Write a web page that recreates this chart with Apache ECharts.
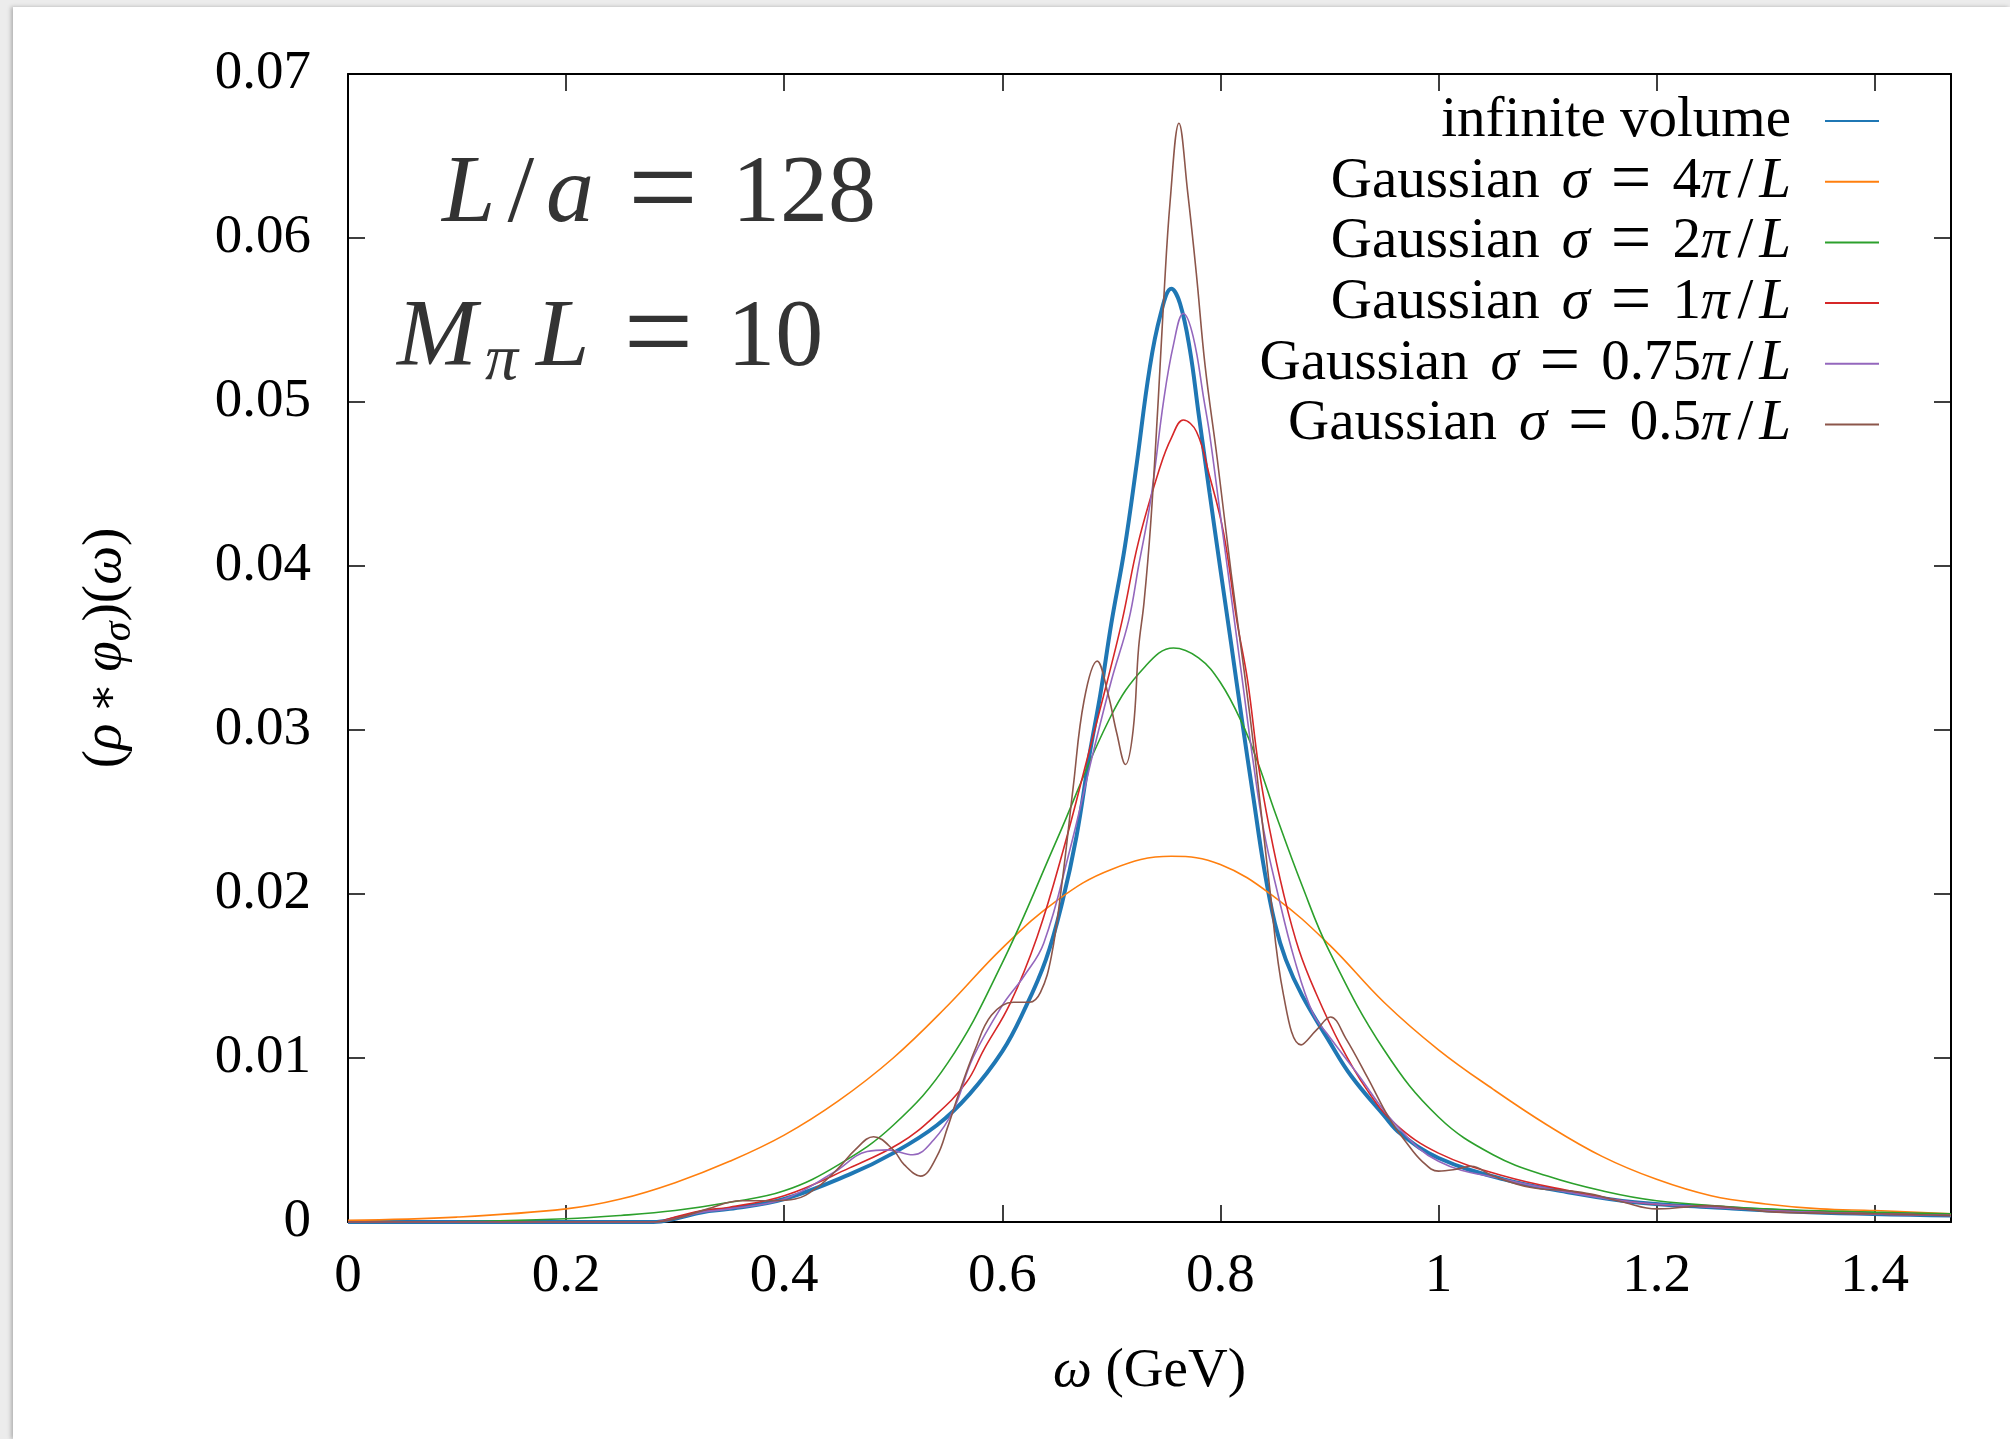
<!DOCTYPE html>
<html>
<head>
<meta charset="utf-8">
<script src="https://cdn.jsdelivr.net/npm/echarts/dist/echarts.min.js"></script>
<style>
  html, body { margin: 0; padding: 0; background: #ececec; }
  #main {
    position: absolute; left: 13px; top: 7px; width: 1997px; height: 1432px;
    background: #fff; box-shadow: -2px 0 4px rgba(0,0,0,0.25);
  }
</style>
</head>
<body>
<div id="main"></div>
<script>
// omega (GeV) and smeared spectral density
var infW = [0, 0.28, 0.3, 0.325, 0.35, 0.4, 0.46, 0.5, 0.54, 0.57, 0.6, 0.62, 0.64, 0.655, 0.668, 0.68, 0.69, 0.7, 0.712, 0.723, 0.735, 0.745, 0.755, 0.763, 0.772, 0.78, 0.79, 0.8, 0.81, 0.82, 0.83, 0.84, 0.85, 0.86, 0.875, 0.9, 0.92, 0.95, 0.965, 1.0, 1.06, 1.12, 1.18, 1.25, 1.34, 1.47];
var infRho = [0, 0, 0.0002, 0.0006, 0.0008, 0.0014, 0.0029, 0.0042, 0.0059, 0.0078, 0.0104, 0.0129, 0.0160, 0.0195, 0.0235, 0.0285, 0.0322, 0.0365, 0.0410, 0.0461, 0.0520, 0.0553, 0.0569, 0.0560, 0.0532, 0.0493, 0.0445, 0.0398, 0.0352, 0.0305, 0.0260, 0.0216, 0.0182, 0.0160, 0.0138, 0.0110, 0.0089, 0.0065, 0.0054, 0.0039, 0.0026, 0.0018, 0.0012, 0.0009, 0.0006, 0.0004];

var g4W = [0, 0.1, 0.2, 0.25, 0.3, 0.35, 0.4, 0.45, 0.5, 0.55, 0.6, 0.65, 0.7, 0.755, 0.8, 0.85, 0.9, 0.95, 1.0, 1.05, 1.1, 1.15, 1.2, 1.25, 1.3, 1.35, 1.4, 1.47];
var g4Rho = [0.0001, 0.0003, 0.0008, 0.0014, 0.0024, 0.0037, 0.0053, 0.0074, 0.0100, 0.0132, 0.0167, 0.0196, 0.0215, 0.0223, 0.0218, 0.0198, 0.0169, 0.0134, 0.0105, 0.0081, 0.0059, 0.0040, 0.0026, 0.0016, 0.0011, 0.0008, 0.0007, 0.0005];

var g2W = [0, 0.1, 0.2, 0.25, 0.3, 0.35, 0.4, 0.45, 0.5, 0.55, 0.6, 0.65, 0.7, 0.73, 0.757, 0.78, 0.8, 0.82, 0.835, 0.85, 0.875, 0.9, 0.95, 1.0, 1.05, 1.1, 1.15, 1.2, 1.3, 1.4, 1.47];
var g2Rho = [0, 0.00003, 0.0002, 0.0004, 0.0007, 0.0012, 0.0019, 0.0035, 0.0059, 0.0097, 0.0158, 0.0233, 0.0309, 0.0338, 0.0350, 0.0344, 0.0329, 0.0304, 0.0279, 0.0250, 0.0205, 0.0165, 0.0105, 0.0064, 0.0041, 0.0028, 0.0019, 0.0013, 0.0008, 0.0006, 0.0005];

var g1W = [0, 0.28, 0.3, 0.325, 0.35, 0.4, 0.46, 0.506, 0.537, 0.567, 0.583, 0.607, 0.632, 0.656, 0.68, 0.696, 0.71, 0.725, 0.745, 0.755, 0.766, 0.778, 0.79, 0.803, 0.815, 0.825, 0.835, 0.845, 0.858, 0.872, 0.888, 0.91, 0.934, 0.96, 1.0, 1.06, 1.12, 1.18, 1.25, 1.34, 1.47];
var g1Rho = [0, 0, 0.0003, 0.0007, 0.0009, 0.0016, 0.0033, 0.0048, 0.0064, 0.0085, 0.0105, 0.0133, 0.0174, 0.0227, 0.0288, 0.0329, 0.0367, 0.0415, 0.0461, 0.0478, 0.0489, 0.0482, 0.0455, 0.0420, 0.0367, 0.0330, 0.0278, 0.0240, 0.0200, 0.0166, 0.0139, 0.0108, 0.0081, 0.0060, 0.0042, 0.0028, 0.0019, 0.0012, 0.0009, 0.0006, 0.0004];

var g075W = [0, 0.28, 0.3, 0.325, 0.35, 0.4, 0.445, 0.476, 0.495, 0.518, 0.537, 0.555, 0.573, 0.6, 0.62, 0.638, 0.662, 0.684, 0.7, 0.716, 0.725, 0.736, 0.748, 0.757, 0.766, 0.775, 0.785, 0.79, 0.8, 0.81, 0.82, 0.83, 0.84, 0.852, 0.868, 0.885, 0.9, 0.925, 0.96, 1.0, 1.06, 1.12, 1.18, 1.25, 1.34, 1.47];
var g075Rho = [0, 0, 0.0002, 0.0006, 0.0008, 0.0014, 0.0030, 0.0043, 0.0044, 0.0041, 0.0050, 0.0068, 0.0100, 0.0132, 0.0150, 0.0170, 0.0227, 0.0288, 0.0330, 0.0367, 0.0400, 0.0440, 0.0501, 0.0535, 0.0554, 0.0540, 0.0501, 0.0481, 0.0431, 0.0381, 0.0331, 0.0281, 0.0238, 0.0202, 0.0160, 0.0127, 0.0113, 0.0091, 0.0060, 0.0037, 0.0026, 0.0018, 0.0012, 0.0009, 0.0006, 0.0004];

var g05W = [0, 0.28, 0.3, 0.33, 0.36, 0.39, 0.41, 0.43, 0.45, 0.465, 0.482, 0.5, 0.51, 0.525, 0.54, 0.55, 0.56, 0.575, 0.59, 0.61, 0.625, 0.635, 0.645, 0.655, 0.665, 0.675, 0.687, 0.697, 0.705, 0.713, 0.72, 0.725, 0.73, 0.736, 0.743, 0.748, 0.754, 0.762, 0.77, 0.778, 0.786, 0.797, 0.81, 0.822, 0.832, 0.845, 0.858, 0.874, 0.888, 0.901, 0.915, 0.935, 0.955, 0.97, 0.985, 1.0, 1.015, 1.03, 1.05, 1.085, 1.12, 1.14, 1.17, 1.2, 1.225, 1.245, 1.28, 1.31, 1.4, 1.47];
var g05Rho = [0, 0, 0.0002, 0.0008, 0.0013, 0.0013, 0.0014, 0.0021, 0.0033, 0.0044, 0.0052, 0.0044, 0.0035, 0.0028, 0.0040, 0.0058, 0.0078, 0.0105, 0.0126, 0.0134, 0.0134, 0.0140, 0.0162, 0.0208, 0.0265, 0.0318, 0.0342, 0.0322, 0.0298, 0.0279, 0.0300, 0.0350, 0.0378, 0.0425, 0.0501, 0.0562, 0.0623, 0.0670, 0.0628, 0.0578, 0.0522, 0.0466, 0.0395, 0.0335, 0.0282, 0.0205, 0.0138, 0.0108, 0.0117, 0.0125, 0.0112, 0.0088, 0.0063, 0.0049, 0.0037, 0.0031, 0.0032, 0.0034, 0.0028, 0.0021, 0.0019, 0.0017, 0.0012, 0.0008, 0.0009, 0.0010, 0.0008, 0.0006, 0.0005, 0.0004];

var seriesNames = ['infinite volume', 'Gaussian σ = 4π/L', 'Gaussian σ = 2π/L', 'Gaussian σ = 1π/L', 'Gaussian σ = 0.75π/L', 'Gaussian σ = 0.5π/L'];
var sigmaFactors = ['4', '2', '1', '0.75', '0.5'];
var colors = ['#1f77b4', '#ff7f0e', '#2ca02c', '#d62728', '#9467bd', '#8c564b'];
var widths = [4, 1.6, 1.6, 1.6, 1.6, 1.6];
var allW = [infW, g4W, g2W, g1W, g075W, g05W];
var allRho = [infRho, g4Rho, g2Rho, g1Rho, g075Rho, g05Rho];

var FONT = 'Liberation Serif';

function zip(xs, ys) {
  return xs.map(function (x, i) { return [x, ys[i]]; });
}

var series = seriesNames.map(function (name, k) {
  return {
    name: name,
    type: 'line',
    data: zip(allW[k], allRho[k]),
    showSymbol: false,
    symbol: 'none',
    smooth: 0.4,
    clip: true,
    lineStyle: { color: colors[k], width: widths[k] },
    itemStyle: { color: colors[k] },
    z: 2 + k
  };
});

var chart = echarts.init(document.getElementById('main'));

var frameAxis = {
  axisLine: { show: true, onZero: false, lineStyle: { color: '#000', width: 2 } },
  axisTick: { show: true, inside: true, length: 17, lineStyle: { color: '#000', width: 1.5 } },
  splitLine: { show: false }
};

function xFmt(v) {
  var k = v / 0.2;
  if (Math.abs(k - Math.round(k)) > 1e-6) return '';
  return String(+v.toFixed(1));
}
function yFmt(v) {
  return String(+v.toFixed(2));
}

// rich styles for the big annotation
function bigRich() {
  return {
    i: { fontSize: 96, fontFamily: FONT, fontStyle: 'italic', fill: '#333', lineHeight: 110 },
    n: { fontSize: 96, fontFamily: FONT, fill: '#333', lineHeight: 110 },
    sl: { fontSize: 96, fontFamily: FONT, fill: '#333', lineHeight: 110, padding: [0, 12, 0, 12] },
    e: { fontSize: 124, fontFamily: FONT, fill: '#333', lineHeight: 110, padding: [0, 34, 0, 34] },
    m: { fontSize: 96, fontFamily: FONT, fontStyle: 'italic', fill: '#333', lineHeight: 110, padding: [0, 8, 0, 0] },
    s: { fontSize: 66, fontFamily: FONT, fontStyle: 'italic', fill: '#333', lineHeight: 52, verticalAlign: 'bottom', padding: [0, 18, 0, 0] }
  };
}

var option = {
  animation: false,
  grid: { left: 335, right: 59, top: 67, bottom: 217, containLabel: false, outerBoundsMode: 'none' },
  xAxis: [
    Object.assign({
      type: 'value', min: 0, max: 1.47, interval: 0.2, position: 'bottom',
      axisLabel: { margin: 27, fontSize: 55, fontFamily: FONT, color: '#000', formatter: xFmt },
      name: '{i|ω} (GeV)', nameLocation: 'middle', nameGap: 118,
      nameTextStyle: {
        fontSize: 55, fontFamily: FONT, color: '#000', lineHeight: 64,
        rich: { i: { fontSize: 55, fontFamily: FONT, fontStyle: 'italic', color: '#000', lineHeight: 64 } }
      }
    }, frameAxis),
    Object.assign({
      type: 'value', min: 0, max: 1.47, interval: 0.2, position: 'top',
      axisLabel: { show: false }
    }, frameAxis)
  ],
  yAxis: [
    Object.assign({
      type: 'value', min: 0, max: 0.07, interval: 0.01, position: 'left',
      axisLabel: { margin: 37, fontSize: 55, fontFamily: FONT, color: '#000', formatter: yFmt },
      name: '({i|ρ}{a|∗}{i|φ}{s|σ})({i|ω})', nameLocation: 'middle', nameGap: 209, nameRotate: 90,
      nameTextStyle: {
        fontSize: 55, fontFamily: FONT, color: '#000', lineHeight: 66,
        rich: {
          i: { fontSize: 55, fontFamily: FONT, fontStyle: 'italic', color: '#000', lineHeight: 66 },
          a: { fontSize: 44, fontFamily: 'DejaVu Serif', color: '#000', lineHeight: 66, padding: [0, 11, 0, 11] },
          s: { fontSize: 40, fontFamily: FONT, fontStyle: 'italic', color: '#000', lineHeight: 34, verticalAlign: 'bottom' }
        }
      }
    }, frameAxis),
    Object.assign({
      type: 'value', min: 0, max: 0.07, interval: 0.01, position: 'right',
      axisLabel: { show: false }
    }, frameAxis)
  ],
  legend: {
    orient: 'vertical', right: 125, top: 73, align: 'right',
    itemWidth: 54, itemHeight: 2, itemGap: -11.3,
    selectedMode: false,
    itemStyle: { opacity: 0 },
    data: seriesNames,
    formatter: function (name) {
      var k = seriesNames.indexOf(name);
      if (k === 0) return '{n|infinite volume}{z|\u200b}';
      return '{g|Gaussian}{i|σ}{e|=}{n|' + sigmaFactors[k - 1] + '}{p|π}{sl|/}{i|L}';
    },
    textStyle: {
      fontSize: 57, fontFamily: FONT, color: '#000', lineHeight: 56, padding: [0, 29, 0, 0],
      rich: {
        n: { fontSize: 57, fontFamily: FONT, color: '#000', lineHeight: 56 },
        z: { fontSize: 72, fontFamily: FONT, color: '#000', lineHeight: 56 },
        g: { fontSize: 57, fontFamily: FONT, color: '#000', lineHeight: 56, padding: [0, 22, 0, 0] },
        i: { fontSize: 57, fontFamily: FONT, fontStyle: 'italic', color: '#000', lineHeight: 56 },
        p: { fontSize: 57, fontFamily: FONT, fontStyle: 'italic', color: '#000', lineHeight: 56, padding: [0, 2, 0, 0] },
        e: { fontSize: 72, fontFamily: FONT, color: '#000', lineHeight: 56, padding: [0, 21, 0, 21] },
        sl: { fontSize: 57, fontFamily: FONT, color: '#000', lineHeight: 56, padding: [0, 6, 0, 6] }
      }
    }
  },
  graphic: [
    {
      type: 'text', x: 429, y: 189, z: 10,
      style: {
        text: '{i|L}{sl|/}{i|a}{e|=}{n|128}',
        verticalAlign: 'middle',
        fill: '#333',
        rich: bigRich()
      }
    },
    {
      type: 'text', x: 384, y: 333, z: 10,
      style: {
        text: '{m|M}{s|π}{i|L}{e|=}{n|10}',
        verticalAlign: 'middle',
        fill: '#333',
        rich: bigRich()
      }
    }
  ],
  series: series
};

chart.setOption(option);
</script>
</body>
</html>
